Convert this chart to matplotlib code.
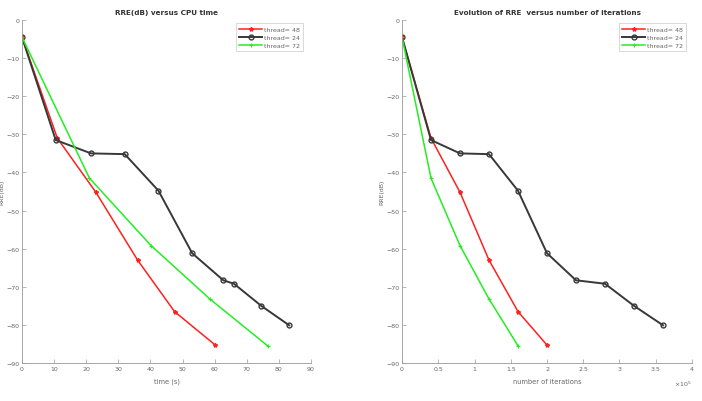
import matplotlib
matplotlib.use('Agg')
import matplotlib.pyplot as plt
import numpy as np

# RRE (dB) values per thread count
rre_48 = [-4.5, -31.0, -45.2, -63.0, -76.5, -85.3]
rre_24 = [-4.5, -31.5, -35.0, -35.2, -44.8, -61.2, -68.3, -69.2, -75.0, -80.1]
rre_72 = [-4.5, -41.5, -59.2, -73.2, -85.5]

# CPU time (s)
time_48 = [0, 11.0, 23.0, 36.0, 47.5, 60.2]
time_24 = [0, 10.5, 21.5, 32.0, 42.5, 53.0, 62.7, 66.0, 74.5, 83.2]
time_72 = [0, 21.0, 40.2, 58.5, 76.5]

# number of iterations (x 1e5)
iter_48 = [0, 0.4, 0.8, 1.2, 1.6, 2.0]
iter_24 = [0, 0.4, 0.8, 1.2, 1.6, 2.0, 2.4, 2.8, 3.2, 3.6]
iter_72 = [0, 0.4, 0.8, 1.2, 1.6]

labels = ['thread= 48', 'thread= 24', 'thread= 72']

plt.rcParams['font.family'] = 'DejaVu Sans'
fig = plt.figure(figsize=(7.02, 4.02), dpi=100)
W, H = 702.0, 402.0
ax1 = fig.add_axes([22 / W, 1 - 364 / H, 289 / W, 343 / H])
ax2 = fig.add_axes([402 / W, 1 - 364 / H, 290 / W, 343 / H])

gray = '#666666'


def style(ax):
    for s in ['top', 'right']:
        ax.spines[s].set_visible(False)
    for s in ['left', 'bottom']:
        ax.spines[s].set_color('#999999')
        ax.spines[s].set_linewidth(0.6)
    ax.tick_params(direction='in', length=3, width=0.5, labelsize=4.5,
                   colors='#999999', labelcolor=gray, pad=2)
    ax.set_ylim(-90, 0)
    ax.set_yticks(np.arange(-90, 1, 10))
    ax.set_ylabel('RRE(dB)', fontsize=4.5, color=gray, labelpad=1)


def draw(ax, x48, x24, x72, anchor_x):
    ax.plot(x48, rre_48, color='#ff2020', lw=1.1, marker='*', ms=3, label=labels[0])
    ax.plot(x24, rre_24, color='#383838', lw=1.4, marker='o', ms=3.5,
            mfc='none', mew=1.0, label=labels[1])
    ax.plot(x72, rre_72, color='#22ee22', lw=1.1, marker='+', ms=3, mew=0.8, label=labels[2])
    leg = ax.legend(loc='upper right', fontsize=4.5, frameon=True, fancybox=False,
                    borderpad=0.5, labelspacing=0.45, handlelength=3.6,
                    handletextpad=0.3, borderaxespad=0, bbox_to_anchor=(anchor_x, 0.99))
    leg.get_frame().set_edgecolor('#bbbbbb')
    leg.get_frame().set_linewidth(0.5)
    for t in leg.get_texts():
        t.set_color(gray)


style(ax1)
draw(ax1, time_48, time_24, time_72, 0.972)
ax1.set_xlim(0, 90)
ax1.set_xticks(np.arange(0, 91, 10))
ax1.set_xlabel('time (s)', fontsize=4.8, color=gray, labelpad=5)
ax1.set_title('RRE(dB) versus CPU time', fontsize=5.2, fontweight='bold', color='#333333', pad=4)

style(ax2)
draw(ax2, iter_48, iter_24, iter_72, 0.979)
ax2.set_xlim(0, 4)
ax2.set_xticks(np.arange(0, 4.01, 0.5))
ax2.set_xticklabels(['0', '0.5', '1', '1.5', '2', '2.5', '3', '3.5', '4'])
ax2.set_xlabel('number of iterations', fontsize=4.8, color=gray, labelpad=5)
ax2.set_title('Evolution of RRE  versus number of iterations', fontsize=5.2,
              fontweight='bold', color='#333333', pad=4)
ax2.text(1.0, -0.045, r'$\times10^5$', transform=ax2.transAxes, fontsize=4.5,
         color=gray, ha='right', va='top')

fig.savefig('out.png', dpi=100, facecolor='white')
